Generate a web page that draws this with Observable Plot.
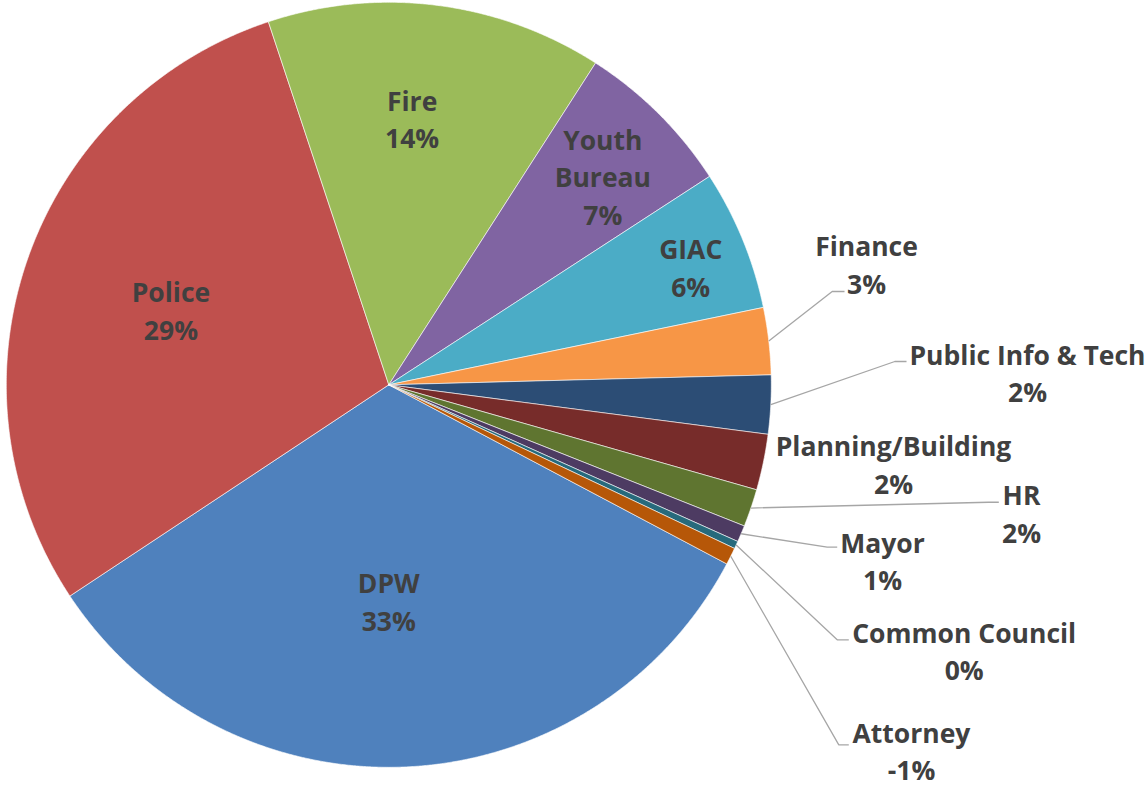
<!DOCTYPE html>
<html><head><meta charset="utf-8">
<script src="https://cdn.jsdelivr.net/npm/d3@7"></script>
<script src="https://cdn.jsdelivr.net/npm/@observablehq/plot@0.6"></script>
<style>html,body{margin:0;padding:0;background:#fff;overflow:hidden}</style>
</head><body><div id="chart"></div>
<script>
// ---- data ----
const departments = ["DPW","Police","Fire","Youth Bureau","GIAC","Finance","Public Info & Tech","Planning/Building","HR","Mayor","Common Council","Attorney"];
const shares = [32.94, 29.22, 14.19, 6.74, 5.93, 2.83, 2.48, 2.36, 1.59, 0.70, 0.32, -0.72];
const colors = ["#4F81BD","#C0504D","#9BBB59","#8064A2","#4BACC6","#F79646","#2C4D75","#772C2A","#5F7530","#4D3B62","#276A7C","#B65708"];
const displayNames = ["DPW","Police","Fire","Youth\nBureau","GIAC","Finance","Public Info & Tech","Planning/Building","HR","Mayor","Common Council","Attorney"];

// ---- layout ----
const W = 1147, H = 788;
const cxPx = 388.3, cyPx = 384.3, Rpx = 382.5;
const startDeg = 117.92;
// inside labels: radius fraction and angular nudge (deg) from slice mid-angle
const insideLayout = {
  "DPW": {r: 0.563, shift: 2.8},
  "Police": {r: 0.603, shift: 0.1},
  "Fire": {r: 0.702, shift: -2.2},
  "Youth Bureau": {r: 0.783, shift: 0.75},
  "GIAC": {r: 0.848, shift: 0.9}
};
// outside labels: label centre, leader elbow and end (chart units, radius = 1)
const outsideLayout = {
  "Finance": {lx: 1.2489, ly: 0.3184, elbow: [1.1592, 0.2439], end: [1.1914, 0.2439]},
  "Public Info & Tech": {lx: 1.6698, ly: 0.0348, elbow: [1.3229, 0.0609], end: [1.3535, 0.0609]},
  "Planning/Building": {lx: 1.3195, ly: -0.2044},
  "HR": {lx: 1.6541, ly: -0.3325, elbow: [1.5680, -0.3071], end: [1.5948, -0.3071]},
  "Mayor": {lx: 1.2907, ly: -0.4567, elbow: [1.1462, -0.4246], end: [1.1723, -0.4246]},
  "Common Council": {lx: 1.5043, ly: -0.6920, elbow: [1.1723, -0.6667], end: [1.2026, -0.6667]},
  "Attorney": {lx: 1.3665, ly: -0.9530, elbow: [1.1765, -0.9412], end: [1.2026, -0.9412]}
};

// ---- build ----
const rows = departments.map((d, i) => ({name: d, value: shares[i], label: displayNames[i]}));
const totalAbs = d3.sum(rows, d => Math.abs(d.value));
const rad = Math.PI / 180;
const arcs = d3.pie().sort(null).value(d => Math.abs(d.value))
  .startAngle(startDeg * rad).endAngle(startDeg * rad + 2 * Math.PI)(rows);

const polys = [];
for (const a of arcs) {
  polys.push({name: a.data.name, x: 0, y: 0});
  const n = Math.max(2, Math.ceil((a.endAngle - a.startAngle) / (0.25 * rad)));
  for (let k = 0; k <= n; k++) {
    const t = a.startAngle + (a.endAngle - a.startAngle) * k / n;
    polys.push({name: a.data.name, x: Math.sin(t), y: Math.cos(t)});
  }
  polys.push({name: a.data.name, x: 0, y: 0});
}

const labels = [];
const leaders = [];
for (const a of arcs) {
  const name = a.data.name;
  const pct = Math.round(a.data.value / totalAbs * 100) + "%";
  const text = a.data.label + "\n" + pct;
  const mid = (a.startAngle + a.endAngle) / 2;
  if (insideLayout[name]) {
    const L = insideLayout[name];
    const t = mid + L.shift * rad;
    labels.push({x: L.r * Math.sin(t), y: L.r * Math.cos(t), text});
  } else {
    const L = outsideLayout[name];
    labels.push({x: L.lx, y: L.ly, text});
    if (L.elbow) {
      leaders.push({name, x: Math.sin(mid), y: Math.cos(mid)});
      leaders.push({name, x: L.elbow[0], y: L.elbow[1]});
      leaders.push({name, x: L.end[0], y: L.end[1]});
    }
  }
}

const chart = Plot.plot({
  width: W, height: H,
  margin: 0,
  x: {domain: [-cxPx / Rpx, (W - cxPx) / Rpx], axis: null},
  y: {domain: [-(H - cyPx) / Rpx, cyPx / Rpx], axis: null},
  color: {domain: departments, range: colors},
  style: {background: "white", fontFamily: "'Open Sans', sans-serif"},
  marks: [
    Plot.line(polys, {x: "x", y: "y", z: "name", fill: "name", stroke: "white", strokeWidth: 0.7, strokeOpacity: 0.85, curve: "linear", strokeLinejoin: "miter"}),
    Plot.line(leaders, {x: "x", y: "y", z: "name", stroke: "#A6A6A6", strokeWidth: 1.3, curve: "linear", strokeLinejoin: "miter", strokeLinecap: "butt"}),
    Plot.text(labels, {x: "x", y: "y", text: "text", fontSize: 26.5, fontWeight: "bold", fill: "#404040", lineHeight: 1.42, fontFamily: "Open Sans"})
  ]
});
document.getElementById("chart").appendChild(chart);
</script>
</body></html>
